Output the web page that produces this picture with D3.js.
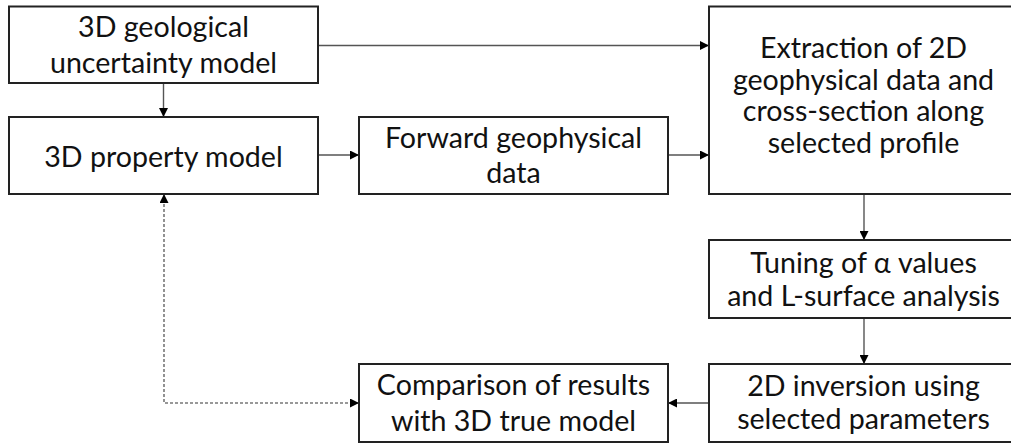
<!DOCTYPE html>
<html><head><meta charset="utf-8">
<script src="https://cdn.jsdelivr.net/npm/d3@7"></script>
<style>html,body{margin:0;padding:0;background:#fff;overflow:hidden}</style>
</head><body>
<svg id="c" width="1011" height="444"></svg>
<script>
// ---- data ----
const nodeIds = ["geo", "prop", "fwd", "extr", "tune", "inv", "comp"];
const nodeLabels = [
  ["3D geological", "uncertainty model"],
  ["3D property model"],
  ["Forward geophysical", "data"],
  ["Extraction of 2D", "geophysical data and", "cross-section along", "selected profile"],
  ["Tuning of \u03B1 values", "and L-surface analysis"],
  ["2D inversion using", "selected parameters"],
  ["Comparison of results", "with 3D true model"]
];
const nodeCols = [0, 0, 1, 2, 2, 2, 1];
const nodeRows = [0, 1, 1, 0, 2, 3, 3];
const nodeRowSpans = [1, 1, 1, 2, 1, 1, 1];
const edgeFrom = ["geo", "geo", "prop", "fwd", "extr", "tune", "inv", "comp"];
const edgeTo   = ["prop", "extr", "fwd", "extr", "tune", "inv", "comp", "prop"];
const edgeDashed = [false, false, false, false, false, false, false, true];

// ---- layout (styles) ----
const colX = d3.scaleOrdinal().domain([0, 1, 2]).range([9, 359, 709]);
const rowTop = d3.scaleOrdinal().domain([0, 1, 2, 3]).range([6.5, 117, 240, 364]);
const rowBot = d3.scaleOrdinal().domain([0, 1, 2, 3]).range([83, 194, 318, 442]);
const boxW = 309;
const lineGap = {geo: 36, prop: 34, fwd: 35, extr: 31.5, tune: 33, inv: 33, comp: 36};
const baseShift = {geo: 10, prop: 11, fwd: 10, extr: 5, tune: 10.5, inv: 9.7, comp: 9.5};

const nodes = nodeIds.map((id, i) => {
  const x = colX(nodeCols[i]);
  const y0 = rowTop(nodeRows[i]);
  const y1 = rowBot(nodeRows[i] + nodeRowSpans[i] - 1);
  return {id, lines: nodeLabels[i], x, y: y0, w: boxW, h: y1 - y0};
});
const byId = Object.fromEntries(nodes.map(n => [n.id, n]));

const svg = d3.select("#c");
const defs = svg.append("defs");
defs.append("marker").attr("id", "ah").attr("viewBox", "0 0 10 10")
  .attr("refX", 10).attr("refY", 5).attr("markerWidth", 10).attr("markerHeight", 9)
  .attr("markerUnits", "userSpaceOnUse").attr("orient", "auto")
  .append("path").attr("d", "M0,0 L10,5 L0,10 Z").attr("fill", "#000");
defs.append("marker").attr("id", "ahs").attr("viewBox", "0 0 10 10")
  .attr("refX", 10).attr("refY", 5).attr("markerWidth", 10).attr("markerHeight", 9)
  .attr("markerUnits", "userSpaceOnUse").attr("orient", "auto-start-reverse")
  .append("path").attr("d", "M0,0 L10,5 L0,10 Z").attr("fill", "#000");

function cx(n){return n.x + n.w/2;}
function cy(n){return n.y + n.h/2;}

const y1a = 45.5, y1b = 155, xRight = 864, yBottom = 403;
function edgePoints(a, b) {
  if (a.id === "geo" && b.id === "prop") return [[cx(a), a.y + a.h], [cx(a), b.y]];
  if (a.id === "geo" && b.id === "extr") return [[a.x + a.w, y1a], [b.x, y1a]];
  if (b.id === "fwd" || (a.id === "fwd" && b.id === "extr")) return [[a.x + a.w, y1b], [b.x, y1b]];
  if (a.id === "extr" || a.id === "tune") return [[xRight, a.y + a.h], [xRight, b.y]];
  if (a.id === "inv") return [[a.x, yBottom], [b.x + b.w, yBottom]];
  if (a.id === "comp") return [[b.x + 155, b.y + b.h], [b.x + 155, yBottom], [a.x, yBottom]];
}

const line = d3.line();
edgeFrom.forEach((f, i) => {
  const a = byId[f], b = byId[edgeTo[i]];
  const p = svg.append("path").attr("d", line(edgePoints(a, b))).attr("fill", "none")
    .attr("stroke", edgeDashed[i] ? "#777" : "#555").attr("stroke-width", edgeDashed[i] ? 1.6 : 1.4);
  if (edgeDashed[i]) p.attr("stroke-dasharray", "3,2").attr("marker-start", "url(#ahs)");
  p.attr("marker-end", "url(#ah)");
});

const g = svg.selectAll("g.node").data(nodes).join("g").attr("class", "node");
g.append("rect").attr("x", d => d.x).attr("y", d => d.y).attr("width", d => d.w).attr("height", d => d.h)
  .attr("fill", "#fff").attr("stroke", "#222").attr("stroke-width", 2);
g.append("text")
  .attr("font-family", "Lato, 'Open Sans', sans-serif").attr("font-size", 28.6).attr("fill", "#111")
  .attr("text-anchor", "middle")
  .each(function(d) {
    const t = d3.select(this);
    const n = d.lines.length, lh = lineGap[d.id];
    d.lines.forEach((s, j) => {
      t.append("tspan").attr("x", cx(d))
        .attr("y", cy(d) + (j - (n - 1)/2) * lh + baseShift[d.id])
        .text(s);
    });
  });
</script>
</body></html>
